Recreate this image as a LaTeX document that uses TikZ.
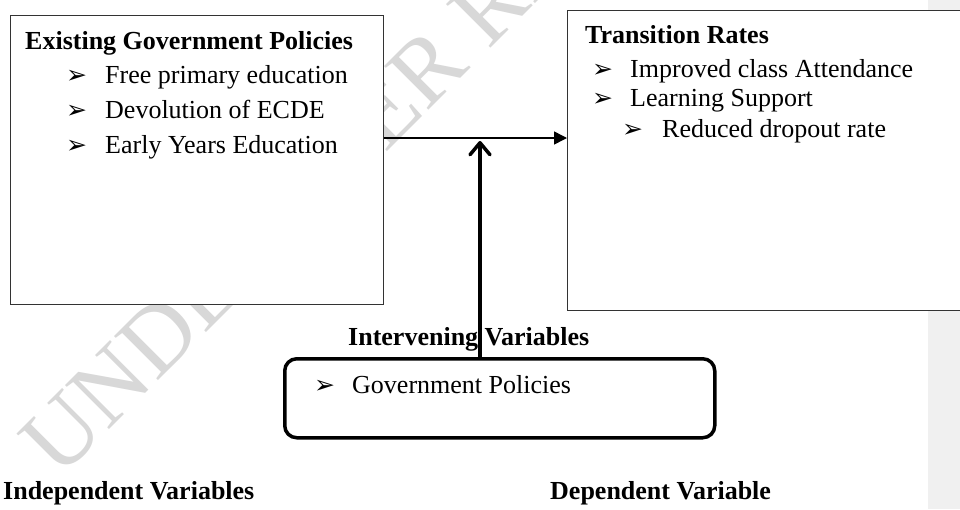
\documentclass[tikz,border=0pt]{standalone}
\usepackage{fontspec}
\setmainfont{Liberation Serif}
\newfontfamily\dvfont{DejaVu Sans}
\usetikzlibrary{arrows.meta}
\definecolor{wmgray}{RGB}{216,216,216}
\definecolor{bandgray}{RGB}{240,240,240}
\begin{document}
\begin{tikzpicture}[x=1pt,y=-1pt,
  txt/.style={anchor=base west, inner sep=0pt, font=\fontsize{26}{31}\selectfont},
  btxt/.style={anchor=base west, inner sep=0pt, font=\fontsize{26}{31}\selectfont\bfseries},
  bul/.style={anchor=base west, inner sep=0pt, font=\dvfont\fontsize{25}{27}\selectfont},
  box/.style={draw=black!80, line width=1.1pt, fill=white, anchor=north west, inner sep=0pt},
  ibox/.style={draw=black, line width=3.5pt, fill=white, anchor=north west, inner sep=0pt, rounded corners=12pt},
  wm/.style={anchor=base west, inner sep=0pt, text=wmgray, font=\fontsize{95}{99}\selectfont},
  harrow/.style={line width=1.5pt, -{Triangle[length=13pt,width=13pt]}},
  varrow/.style={line width=3.5pt, -{Straight Barb[length=12pt,width=20pt,round]}}
]
\useasboundingbox (0,0) rectangle (960,509);
\clip (0,0) rectangle (960,509);
\fill[white] (0,0) rectangle (960,509);
\fill[bandgray] (928,0) rectangle (960,509);
% watermark
\node[wm, rotate=45] (wmark) at (59,480) {UNDER PEER REVIEW};
% boxes
\node[box, minimum width=373pt, minimum height=289pt] (lbox) at (10,15) {};
\node[box, minimum width=420pt, minimum height=300pt] (rbox) at (567,10) {};
\node[ibox, minimum width=430pt, minimum height=79pt] (ibox) at (283,357) {};
% left box text
\node[btxt] (lt) at (25,49) {Existing Government Policies};
\node[bul] (lb1) at (66,83) {➢};
\node[txt] (l1) at (105,83) {Free primary education};
\node[bul] (lb2) at (66,118) {➢};
\node[txt] (l2) at (105,118) {Devolution of ECDE};
\node[bul] (lb3) at (66,153) {➢};
\node[txt] (l3) at (105,153) {Early Years Education};
% right box text
\node[btxt] (rt) at (585,43) {Transition Rates};
\node[bul] (rb1) at (592,77) {➢};
\node[txt] (r1) at (630,77) {Improved class Attendance};
\node[bul] (rb2) at (592,106) {➢};
\node[txt] (r2) at (630,106) {Learning Support};
\node[bul] (rb3) at (622,137) {➢};
\node[txt] (r3) at (662,137) {Reduced dropout rate};
% intervening
\node[btxt] (it) at (348,345) {Intervening Variables};
\node[bul] (ib1) at (314,393) {➢};
\node[txt] (i1) at (352,393) {Government Policies};
% bottom labels
\node[btxt] (indep) at (3,499) {Independent Variables};
\node[btxt] (dep) at (550,499) {Dependent Variable};
% connectors
\coordinate (hy) at (0,138);
\coordinate (vtip) at (480,141);
\draw[harrow] (lbox.east |- hy) -- (rbox.west |- hy);
\draw[varrow] (ibox.north -| vtip) -- (vtip);
\end{tikzpicture}
\end{document}
